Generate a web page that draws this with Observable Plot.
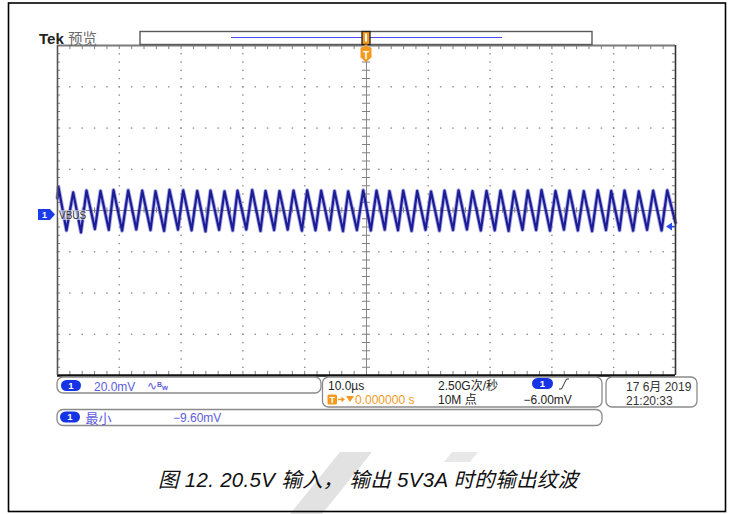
<!DOCTYPE html>
<html><head><meta charset="utf-8">
<script src="https://cdn.jsdelivr.net/npm/d3@7"></script>
<script src="https://cdn.jsdelivr.net/npm/@observablehq/plot@0.6"></script>
<style>
html,body{margin:0;padding:0;background:#fff;}
#wrap{position:relative;width:733px;height:514px;overflow:hidden;background:#fff;}
#wrap svg{position:absolute;left:0;top:0;}
</style></head><body><div id="wrap"></div>
<script>
// ---- data (time in µs, voltage in mV) ----
const peakTimes = [-49.84,-47.46,-45.31,-43.04,-40.94,-38.56,-36.29,-34.14,-31.88,-29.66,-27.39,-25.24,-22.98,-20.87,-18.50,-16.34,-14.08,-11.81,-9.60,-7.33,-5.18,-2.96,-0.53,1.62,3.72,5.94,8.20,10.44,12.62,14.89,17.15,19.42,21.68,23.87,26.10,28.32,30.58,32.85,35.16,37.43,39.60,41.75,44.06,46.39,48.66];
const peakValues = [11.3,8.8,9.7,9.5,9.9,9.8,9.6,9.4,10.0,9.8,9.5,9.7,9.3,9.6,9.9,9.5,9.4,9.7,9.8,9.6,9.5,9.3,9.8,9.6,9.4,9.7,9.5,9.2,9.6,9.8,9.4,9.5,9.6,9.3,9.7,9.9,9.5,9.6,9.4,9.8,9.5,9.7,9.3,9.6,9.8];
const troughTimes = [-48.55,-46.20,-43.95,-41.70,-39.55,-37.25,-34.95,-32.75,-30.50,-28.30,-26.05,-23.85,-21.65,-19.45,-17.15,-14.95,-12.75,-10.45,-8.25,-6.00,-3.80,-1.55,0.70,2.95,5.10,7.30,9.55,11.80,14.00,16.25,18.50,20.75,23.00,25.25,27.45,29.70,31.95,34.20,36.50,38.75,40.95,43.15,45.40,47.75];
const troughValues = [-9.7,-10.6,-9.0,-9.4,-9.8,-9.2,-9.5,-9.9,-9.3,-9.6,-10.1,-9.4,-9.7,-9.2,-9.9,-9.5,-9.3,-9.8,-9.6,-9.4,-10.0,-9.5,-9.7,-9.3,-9.6,-9.9,-9.4,-9.8,-9.5,-9.2,-9.7,-9.6,-9.9,-9.4,-9.5,-9.8,-9.3,-9.7,-10.0,-9.5,-9.6,-9.8,-9.4,-9.7];
const traceStart = {t: -50, v: 6};
const traceEnd = {t: 50, v: -6};
const timeDomain = [-50, 50];     // 10 div × 10.0 µs
const voltDomain = [-80, 80];     // 8 div × 20.0 mV
const timeGrid = [-40,-30,-20,-10,10,20,30,40];
const voltGrid = [-60,-40,-20,20,40,60];
const triggerLevelMarker = -8;    // right-edge arrow position (mV)

// ---- text labels ----
const headerBrand = "Tek";
const headerMode = "预览";
const channelName = "VBUS";
const ch1Scale = "20.0mV";
const timeScale = "10.0µs";
const triggerPos = "0.000000 s";
const sampleRate = "2.50G次/秒";
const recordLen = "10M 点";
const triggerLevel = "−6.00mV";
const dateText = "17 6月 2019";
const timeText = "21:20:33";
const measName = "最小";
const measValue = "−9.60mV";
const caption = "图 12. 20.5V 输入， 输出 5V3A 时的输出纹波";

// ---- build tables ----
const trace = [traceStart,
  ...peakTimes.map((t,i)=>({t, v: peakValues[i]})),
  ...troughTimes.map((t,i)=>({t, v: troughValues[i]})),
  traceEnd].sort((a,b)=>a.t-b.t);
const minorT = d3.range(timeDomain[0], timeDomain[1]+0.001, 2);
const minorV = d3.range(voltDomain[0], voltDomain[1]+0.001, 4);
const gridDots = [];
for (const t of timeGrid) for (const v of minorV) gridDots.push({t, v});
for (const v of voltGrid) for (const t of minorT) gridDots.push({t, v});

const plot = Plot.plot({
  width: 733, height: 514,
  marginLeft: 57, marginRight: 58, marginTop: 45, marginBottom: 139,
  style: {background: "transparent"},
  x: {domain: timeDomain, axis: null},
  y: {domain: voltDomain, axis: null},
  marks: [
    Plot.dot(gridDots, {x: "t", y: "v", r: 0.85, fill: "#8e8e8e", stroke: null}),
    Plot.ruleX([0], {stroke: "#8a8a8a", strokeWidth: 1}),
    Plot.ruleY([0], {stroke: "#8a8a8a", strokeWidth: 1}),
    Plot.ruleY(minorV, {y: d=>d, x1: ()=>-0.65, x2: ()=>0.65, stroke: "#808080"}),
    Plot.ruleX(minorT, {x: d=>d, y1: ()=>-1.3, y2: ()=>1.3, stroke: "#808080"}),
    Plot.ruleX(minorT, {x: d=>d, y1: ()=>78, y2: ()=>80, stroke: "#808080"}),
    Plot.ruleX(minorT, {x: d=>d, y1: ()=>-80, y2: ()=>-78, stroke: "#808080"}),
    Plot.ruleY(minorV, {y: d=>d, x1: ()=>-50, x2: ()=>-49.5, stroke: "#808080"}),
    Plot.ruleY(minorV, {y: d=>d, x1: ()=>49.5, x2: ()=>50, stroke: "#808080"}),
    Plot.line(trace, {x: "t", y: "v", stroke: "#5656d2", strokeWidth: 4, strokeOpacity: 0.5}),
    Plot.line(trace, {x: "t", y: "v", stroke: "#1c1c94", strokeWidth: 2.2}),
    Plot.ruleY([voltDomain[1]], {stroke: "#7a7a7a", strokeWidth: 2}),
    Plot.ruleY([voltDomain[0]], {stroke: "#111", strokeWidth: 2.6}),
    Plot.ruleX([timeDomain[0]], {stroke: "#555", strokeWidth: 1.6}),
    Plot.ruleX([timeDomain[1]], {stroke: "#333", strokeWidth: 1.6})
  ]
});
const wrap = document.getElementById("wrap");
wrap.appendChild(plot);

const sx = plot.scale("x"), sy = plot.scale("y");
const cx = sx.apply(0), cy = sy.apply(0), trigY = sy.apply(triggerLevelMarker);
const xR = sx.apply(timeDomain[1]);

const F = `font-family:'Liberation Sans','Noto Sans CJK SC',sans-serif`;
const pill = (x,y,w,h) => `<rect x="${x}" y="${y}" width="${w}" height="${h}" rx="${h/2}" fill="#1634e6"/><text x="${x+w/2}" y="${y+h-2.2}" text-anchor="middle" fill="#fff" style="${F};font-size:${h-1.5}px;font-weight:bold">1</text>`;

const ov = `
<svg width="733" height="514" xmlns="http://www.w3.org/2000/svg">
 <polygon points="290,514 322,514 372,452 340,452" fill="#e2e2e2"/>
 <polygon points="452,452 478,452 470,462 444,462" fill="#e8e8e8"/>
 <rect x="8.5" y="3" width="717" height="508.5" fill="none" stroke="#000" stroke-width="1.6"/>
 <text x="39" y="43.5" style="${F};font-size:15px;font-weight:bold" fill="#222">${headerBrand}</text>
 <text x="68" y="43.5" style="${F};font-size:14.5px" fill="#6a6a6a">${headerMode}</text>
 <rect x="140" y="31.5" width="452" height="13" fill="#fff" stroke="#5a5a5a" stroke-width="1.4"/>
 <line x1="231" x2="502" y1="37.5" y2="37.5" stroke="#4848f4" stroke-width="1"/>
 <rect x="${cx-4}" y="31.5" width="8" height="13" fill="#f39a1e" stroke="#222" stroke-width="1.3"/>
 <rect x="${cx-1}" y="33.5" width="2" height="8" fill="#fff"/>
 <polygon points="${cx-1.5},44.5 ${cx+1.5},44.5 ${cx+1.5},49 ${cx-1.5},49" fill="#f39a1e"/>
 <path d="M${cx-5.5},48.5 q0,-1.5 1.5,-1.5 h8 q1.5,0 1.5,1.5 v9 l-5.5,4.5 l-5.5,-4.5 z" fill="#f39a1e"/>
 <text x="${cx}" y="58.5" text-anchor="middle" fill="#fff" style="${F};font-size:10px;font-weight:bold">T</text>
 <path d="M38,209 h12 l5,5.5 l-5,5.5 h-12 z" fill="#1a3ce8"/>
 <text x="44.5" y="218" text-anchor="middle" fill="#fff" style="${F};font-size:9px;font-weight:bold">1</text>
 <rect x="58" y="210" width="28" height="10" fill="#fff" fill-opacity="0.55"/>
 <text x="59" y="218.8" style="${F};font-size:10px" fill="#333">${channelName}</text>
 <path d="M${xR-9},${trigY} l6,-4 v8 z" fill="#2b4cf0"/>
 <line x1="${xR-4}" x2="${xR}" y1="${trigY}" y2="${trigY}" stroke="#2b4cf0" stroke-width="1.5"/>

 <rect x="57" y="377" width="264" height="16" rx="6" fill="#fff" stroke="#8a8a8a" stroke-width="1.3"/>
 ${pill(61,380,20,11)}
 <text x="94" y="390.5" style="${F};font-size:12px" fill="#5c5ce0">${ch1Scale}</text>
 <text x="147" y="389.5" style="${F};font-size:12px" fill="#5c5ce0">∿<tspan dy="-3" style="font-size:7px;font-weight:bold">B</tspan><tspan dy="3.5" style="font-size:7.5px;font-weight:bold">w</tspan></text>

 <rect x="322.5" y="377" width="279.5" height="30" rx="6" fill="#fff" stroke="#8a8a8a" stroke-width="1.3"/>
 <text x="328" y="390" style="${F};font-size:12px" fill="#222">${timeScale}</text>
 <rect x="327.5" y="394.5" width="9.5" height="10" rx="1.5" fill="#f39a1e"/>
 <text x="332.2" y="403" text-anchor="middle" fill="#fff" style="${F};font-size:9px;font-weight:bold">T</text>
 <path d="M338,399.5 h4.5" stroke="#f39a1e" stroke-width="1.4"/>
 <path d="M341.5,396.8 l3.5,2.7 l-3.5,2.7 z" fill="#f39a1e"/>
 <path d="M346,396 h8 l-4,6 z" fill="#f39a1e"/>
 <text x="355" y="404" style="${F};font-size:12px" fill="#f39a1e">${triggerPos}</text>
 <text x="438" y="390" style="${F};font-size:12px" fill="#222">${sampleRate}</text>
 <text x="438" y="404" style="${F};font-size:12px" fill="#222">${recordLen}</text>
 ${pill(532,378,21,11)}
 <path d="M559,389 h2.5 l5,-10 h2.5" fill="none" stroke="#333" stroke-width="1"/>
 <text x="523.5" y="404" style="${F};font-size:12px" fill="#222">${triggerLevel}</text>

 <rect x="606" y="377" width="91" height="30" rx="6" fill="#fff" stroke="#8a8a8a" stroke-width="1.3"/>
 <text x="626" y="390.5" style="${F};font-size:12px" fill="#333">${dateText}</text>
 <text x="626" y="405" style="${F};font-size:12px" fill="#333">${timeText}</text>

 <rect x="57" y="409.5" width="545" height="16" rx="6" fill="#fff" stroke="#8a8a8a" stroke-width="1.3"/>
 ${pill(60,411.5,20,11)}
 <text x="85.5" y="422.5" style="${F};font-size:13px" fill="#5c5ce0">${measName}</text>
 <text x="173" y="422" style="${F};font-size:12px" fill="#5c5ce0">${measValue}</text>

 <text x="158" y="486.5" textLength="420" lengthAdjust="spacing" style="${F};font-size:20.5px;font-style:italic" fill="#111">${caption}</text>
</svg>`;
const holder = document.createElement("div");
holder.innerHTML = ov;
wrap.appendChild(holder.firstElementChild);
</script></body></html>
